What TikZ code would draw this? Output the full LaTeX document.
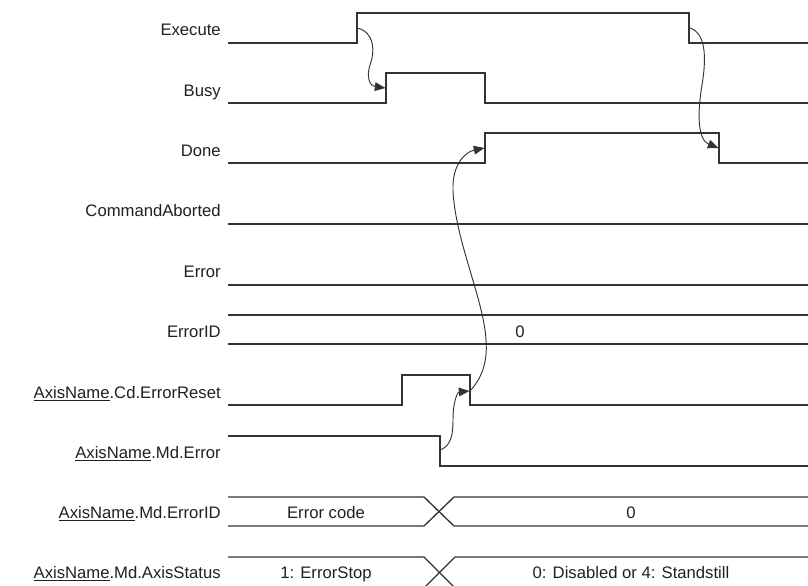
\documentclass[tikz,border=0pt]{standalone}
\usepackage{fontspec}
\setmainfont{Liberation Sans}
\usetikzlibrary{arrows.meta}
\definecolor{sigcol}{HTML}{333333}
\definecolor{txtcol}{HTML}{231F20}
\begin{document}
\begin{tikzpicture}[x=0.75pt,y=-0.75pt,
  sig/.style={line width=1pt, draw=sigcol, line join=miter},
  lbl/.style={anchor=base east, inner sep=0pt, font=\fontsize{12.5}{15}\selectfont, text=txtcol},
  val/.style={anchor=base, inner sep=0pt, font=\fontsize{12.5}{15}\selectfont, text=txtcol},
  arr/.style={line width=0.7pt, draw=sigcol, -{Triangle[length=8pt,width=6.5pt]}}]
\useasboundingbox (0,0) rectangle (808,586);
\clip (0,0) rectangle (808,586);

% labels
\node[lbl] (lExecute) at (221,35) {Execute};
\node[lbl] (lBusy) at (221,96) {Busy};
\node[lbl] (lDone) at (221,156) {Done};
\node[lbl] (lCA) at (221,216) {CommandAborted};
\node[lbl] (lError) at (221,277) {Error};
\node[lbl] (lErrorID) at (221,337) {ErrorID};
\node[lbl] (lReset) at (221,398) {\underline{AxisName}.Cd.ErrorReset};
\node[lbl] (lMdErr) at (221,458) {\underline{AxisName}.Md.Error};
\node[lbl] (lMdErrID) at (221,518) {\underline{AxisName}.Md.ErrorID};
\node[lbl] (lStatus) at (221,578) {\underline{AxisName}.Md.AxisStatus};

% signals
\draw[sig] (228,43) -- (357,43) -- (357,13) -- (689,13) -- (689,43) -- (808,43);
\draw[sig] (228,103) -- (386,103) -- (386,73) -- (485,73) -- (485,103) -- (808,103);
\draw[sig] (228,163) -- (485,163) -- (485,133) -- (719,133) -- (719,163) -- (808,163);
\draw[sig] (228,224) -- (808,224);
\draw[sig] (228,285) -- (808,285);
\draw[sig] (228,315) -- (808,315);
\draw[sig] (228,344) -- (808,344);
\draw[sig] (228,405) -- (402,405) -- (402,375) -- (470,375) -- (470,405) -- (808,405);
\draw[sig] (228,436) -- (440,436) -- (440,466) -- (808,466);
% Md.ErrorID bus
\draw[sig] (228,497) -- (424,497) -- (454,526) -- (808,526);
\draw[sig] (228,526) -- (424,526) -- (454,497) -- (808,497);
% Md.AxisStatus bus
\draw[sig] (228,557) -- (424,557) -- (455,588) -- (808,588);
\draw[sig] (228,588) -- (424,588) -- (455,557) -- (808,557);

% values
\node[val] (vErrorID) at (520,337) {0};
\node[val] (vCode) at (326,518) {Error code};
\node[val] (vZero) at (631,518) {0};
\node[val] (vStop) at (326,578) {1: ErrorStop};
\node[val] (vStand) at (631,578) {0: Disabled or 4: Standstill};

% edge points
\coordinate (exr) at (357,28);
\coordinate (exf) at (690,28);
\coordinate (bur) at (385.5,88);
\coordinate (dof) at (718.5,148);
\coordinate (dor) at (484.5,148);
\coordinate (erf) at (470,391);
\coordinate (erfin) at (469.5,391);
\coordinate (mef) at (440,450);

% causal arrows
\draw[arr] (exr) .. controls (375,32) and (375,52) .. (370,65) .. controls (366,78) and (370,86) .. (bur);
\draw[arr] (exf) .. controls (705,33) and (707,55) .. (702,85) .. controls (697,115) and (698,140) .. (dof);
\draw[arr] (mef) .. controls (452,446) and (453,432) .. (453,420) .. controls (453,400) and (458,392) .. (erfin);
\draw[arr] (erf) .. controls (480,380) and (488,365) .. (486,340) .. controls (484,300) and (455,240) .. (453,190) .. controls (452,165) and (465,152) .. (dor);
\end{tikzpicture}
\end{document}
